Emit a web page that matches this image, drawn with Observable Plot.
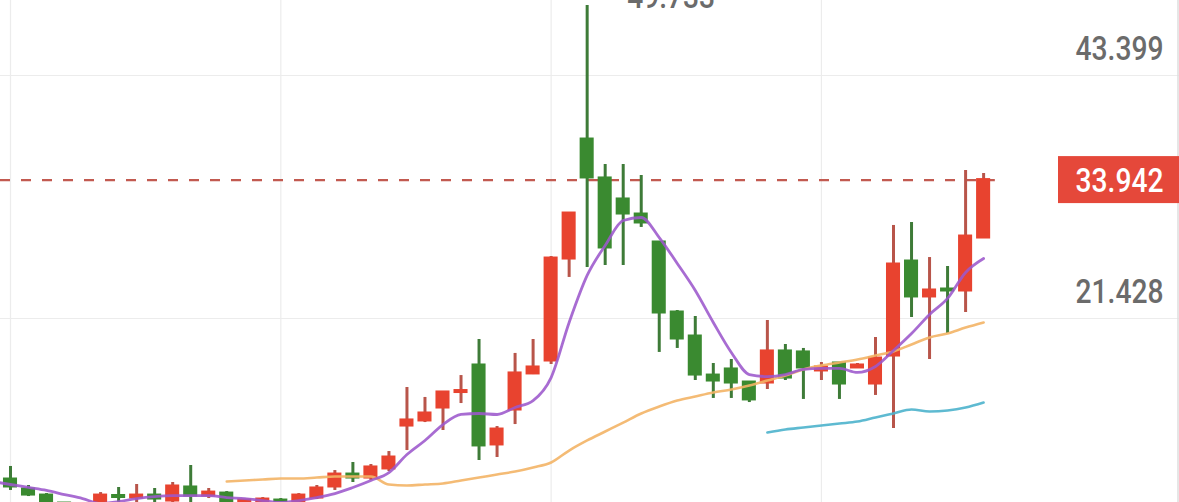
<!DOCTYPE html>
<html>
<head>
<meta charset="utf-8">
<script src="https://cdn.jsdelivr.net/npm/d3@7"></script>
<script src="https://cdn.jsdelivr.net/npm/@observablehq/plot@0.6"></script>
<style>
html, body { margin: 0; padding: 0; background: #fff; overflow: hidden; }
#chart svg { display: block; }
</style>
</head>
<body>
<div id="chart"></div>
<script>
// ---- data ----
const opens  = [6.87,5.97,5.42,4.70,3.95,4.52,5.38,5.24,5.42,4.97,
                6.15,5.42,5.60,4.70,4.70,4.97,4.79,5.24,6.24,7.32,
                7.05,7.87,11.75,12.21,13.38,14.78,17.18,10.04,13.20,16.46,
                17.63,26.85,37.61,34.09,32.19,30.83,28.30,21.97,19.80,16.27,
                16.82,15.64,15.64,18.45,18.36,16.73,17.36,17.00,15.55,18.08,
                26.58,23.42,24.05,23.96,28.75];
const highs  = [8.05,6.33,5.60,4.75,4.70,5.69,6.15,6.42,6.06,6.60,
                8.14,6.06,5.78,5.06,5.24,5.15,5.60,6.33,7.68,8.41,
                8.23,9.40,15.19,14.29,14.83,16.27,19.53,11.66,18.27,19.53,
                27.03,31.01,49.733,35.35,35.35,34.36,28.39,22.15,21.61,17.36,
                17.72,15.73,21.25,19.08,18.72,17.45,17.45,17.36,19.71,29.84,
                30.11,26.94,26.13,34.81,34.54];
const lows   = [5.88,5.33,4.25,3.80,3.70,4.25,4.70,4.70,4.79,4.79,
                4.70,5.15,4.52,4.52,4.61,4.52,4.61,5.06,5.88,6.60,
                6.78,7.59,9.49,12.02,11.30,13.74,8.59,8.86,11.84,16.36,
                17.27,25.14,26.04,26.22,26.22,29.66,18.36,18.72,15.82,14.20,
                14.20,13.83,15.01,15.82,14.11,15.82,14.11,16.91,14.47,11.48,
                21.52,17.72,20.07,21.97,28.75];
const closes = [6.24,5.51,4.52,4.07,4.52,5.42,5.29,5.42,5.15,6.24,
                5.42,5.69,4.70,4.97,5.06,4.79,5.42,6.06,7.32,7.05,
                7.96,8.86,12.21,12.84,14.74,14.87,9.95,11.39,16.46,17.00,
                26.85,30.92,34.18,27.85,30.92,30.11,21.97,19.62,16.36,15.82,
                15.64,14.11,18.45,16.09,17.00,17.00,15.55,17.18,17.81,26.31,
                23.42,23.96,23.96,28.84,33.942];

// moving averages
const ma5Start = -1;
const ma5 = [6.69,6.42,6.15,5.88,5.51,5.15,4.70,4.88,5.15,5.33,
             5.42,5.42,5.42,5.24,5.15,4.97,4.79,4.97,5.24,5.60,
             6.15,6.78,7.50,9.13,10.40,11.84,12.75,12.84,12.75,13.38,
             14.01,16.09,21.07,25.32,28.03,30.29,30.56,28.75,26.40,23.96,
             21.07,18.36,16.36,16.18,16.36,16.82,16.91,16.91,16.55,17.09,
             18.53,20.07,21.79,23.24,25.59,26.85];
const maOrangeStart = 12;
const maOrange = [6.69,6.78,6.87,6.96,6.96,7.05,7.14,7.14,7.14,6.42,
                  6.33,6.42,6.51,6.78,7.05,7.32,7.59,7.96,8.41,9.49,
                  10.40,11.21,12.02,12.84,13.47,14.01,14.38,14.74,15.01,15.37,
                  15.82,16.27,16.82,17.18,17.45,17.72,18.08,18.45,19.08,19.71,
                  20.07,20.61,21.07];
const maCyanStart = 42;
const maCyan = [11.12,11.39,11.57,11.75,11.93,12.11,12.48,12.84,13.20,13.02,13.11,13.38,13.83];

const yTicks = [43.399, 21.428];
const xGrid = [0, 15, 30, 45];
const lastPrice = 33.942;
const highLabel = "49.733";

// ---- build tables ----
const candles = opens.map((o, i) => ({
  i, open: o, high: highs[i], low: lows[i], close: closes[i],
  up: closes[i] >= o
}));
const line = (arr, start) => arr.map((v, k) => ({i: start + k, v}));
const ma5Data = line(ma5, ma5Start);
const orangeData = line(maOrange, maOrangeStart);
const cyanData = line(maCyan, maCyanStart);

const W = 1179, H = 502;
const RED = "#e8432f", GREEN = "#3a8a30";
const RED_WICK = "#b8554a", GREEN_WICK = "#3e7b38";
const FONT = "Roboto, 'DejaVu Sans Condensed', sans-serif";
const LABEL_PAD = 16, LABEL_LEN = 88;
const half = 0.39;
const xDomain = [-0.555, 64.87];
const peak = candles.reduce((a, b) => (b.high > a.high ? b : a));

const plot = Plot.plot({
  width: W,
  height: H,
  margin: 0,
  style: {background: "#ffffff", overflow: "hidden"},
  x: {type: "linear", domain: xDomain, axis: null},
  y: {domain: [4.792, 50.18], axis: null},
  marks: [
    Plot.ruleY(yTicks, {stroke: "#ececec", strokeWidth: 1.2}),
    Plot.ruleX(xGrid, {stroke: "#ececec", strokeWidth: 1.2}),
    Plot.ruleX([xDomain[1]], {stroke: "#dedede", strokeWidth: 1.5, dx: -1.5}),
    Plot.ruleY([lastPrice], {x1: xDomain[0], x2: candles.length - 0.35, stroke: "#c25a50", strokeWidth: 2.2, strokeDasharray: "10,11"}),
    // wicks
    Plot.ruleX(candles, {x: "i", y1: "low", y2: "high", stroke: d => d.up ? RED_WICK : GREEN_WICK, strokeWidth: 3}),
    // bodies
    Plot.rect(candles, {
      x1: d => d.i - half, x2: d => d.i + half,
      y1: "open", y2: "close",
      fill: d => d.up ? RED : GREEN,
      insetTop: -1.5, insetBottom: -1.5
    }),
    // moving averages
    Plot.line(orangeData, {x: "i", y: "v", stroke: "#f3b466", strokeWidth: 2.6, curve: "monotone-x", strokeOpacity: 0.9}),
    Plot.line(cyanData, {x: "i", y: "v", stroke: "#4db2cc", strokeWidth: 2.6, curve: "monotone-x", strokeOpacity: 0.9}),
    Plot.line(ma5Data, {x: "i", y: "v", stroke: "#9c58cc", strokeWidth: 2.8, curve: "monotone-x", strokeOpacity: 0.88}),
    // labels
    Plot.text(yTicks, {
      y: d => d, text: d => d.toFixed(3), frameAnchor: "right", textAnchor: "end",
      lineAnchor: "middle", dx: -LABEL_PAD, dy: -26, fontSize: 34, fontWeight: 500, fill: "#6b6b6b", fontFamily: FONT
    }),
    Plot.text([peak], {
      x: "i", y: "high", text: () => highLabel, textAnchor: "start",
      lineAnchor: "middle", dx: 40, dy: -8, fontSize: 34, fontWeight: 500, fill: "#6b6b6b", fontFamily: FONT
    }),
    Plot.text([lastPrice], {
      y: d => d, text: d => d.toFixed(3), frameAnchor: "right", textAnchor: "end",
      lineAnchor: "middle", dx: -LABEL_PAD, dy: 1, fontSize: 34, fontWeight: 500, fill: "#ffffff", fontFamily: FONT
    })
  ]
});

document.getElementById("chart").append(plot);

// condense the label glyphs to the reference's narrow numerals
const labelTexts = [...plot.querySelectorAll("text")];
for (const t of labelTexts) {
  t.setAttribute("textLength", LABEL_LEN);
  t.setAttribute("lengthAdjust", "spacingAndGlyphs");
}

// red background box behind the current price label (outside the mark's dx/dy transform)
const priceText = labelTexts.find(t => t.textContent === lastPrice.toFixed(3));
if (priceText) {
  const group = priceText.parentNode;
  const boxX = W - LABEL_PAD - LABEL_LEN - 17;
  const yc = plot.scale("y").apply(lastPrice);
  const r = document.createElementNS("http://www.w3.org/2000/svg", "rect");
  r.setAttribute("x", boxX);
  r.setAttribute("y", yc - 23.5);
  r.setAttribute("width", W - boxX);
  r.setAttribute("height", 47);
  r.setAttribute("fill", "#e5483a");
  group.parentNode.insertBefore(r, group);
}
</script>
</body>
</html>
